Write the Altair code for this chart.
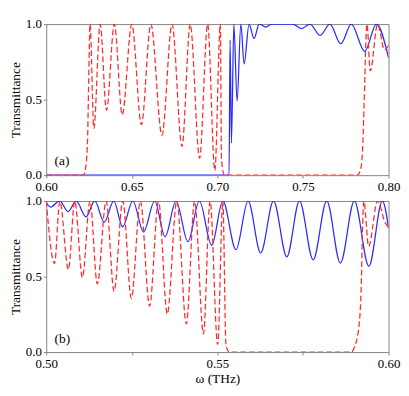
import altair as alt
import pandas as pd

# ---- panel (a) ----
a_red_x = [0.600, 0.6217, 0.6229, 0.6241, 0.6248, 0.6256, 0.6278, 0.6315, 0.6352, 0.6398,
           0.6444, 0.6500, 0.6556, 0.6611, 0.6676, 0.6735, 0.6793, 0.6841, 0.6896, 0.6943,
           0.6985, 0.7017, 0.7024, 0.7041, 0.7817, 0.7837, 0.7850, 0.7856, 0.7861, 0.7868,
           0.7874, 0.7893, 0.7936, 0.7976, 0.800]
a_red_y = [0, 0, 0.04, 0.22, 0.63, 1.0, 0.31, 1.0, 0.43, 1.0,
           0.40, 1.0, 0.335, 1.0, 0.264, 1.0, 0.19, 1.0, 0.112, 1.0,
           0.03, 1.0, 0.1, 0, 0, 0.04, 0.22, 0.43, 0.63, 0.91,
           1.0, 0.69, 1.0, 0.83, 0.86]

a_blue_x = [0.600, 0.7068, 0.7074, 0.7082, 0.7096, 0.7115, 0.7137, 0.7156, 0.7185, 0.7214,
            0.7244, 0.7282, 0.7318, 0.7439, 0.7491, 0.7541, 0.7600, 0.7657, 0.7721, 0.7782,
            0.7861, 0.7929, 0.800]
a_blue_y = [0, 0, 0.894, 0.213, 1.0, 0.49, 1.0, 0.736, 1.0, 0.905,
            1.0, 0.98, 1.0, 1.0, 0.97, 1.0, 0.925, 1.0, 0.87, 1.0,
            0.82, 1.0, 0.776]

# ---- panel (b) ----
b_red_x = [0.5, 0.50242, 0.50397, 0.50647, 0.50833, 0.51056, 0.51278, 0.51492, 0.5175, 0.51981,
           0.52236, 0.52486, 0.5275, 0.53019, 0.53278, 0.53536, 0.53814, 0.54092, 0.54333, 0.54592,
           0.54786, 0.55008, 0.55158, 0.5525, 0.55342, 0.58908, 0.59, 0.59139, 0.59203, 0.59242,
           0.59278, 0.59417, 0.59681, 0.59903, 0.6]
b_red_y = [1.0, 0.586, 1, 0.546, 1, 0.494, 1, 0.451, 1, 0.402,
           1, 0.355, 1, 0.304, 1, 0.253, 1, 0.186, 1, 0.12,
           1, 0.05, 1, 0.05, 0, 0, 0.03, 0.18, 0.45, 0.84,
           1.0, 0.70, 1.0, 0.855, 0.83]

b_blue_x = [0.5, 0.50125, 0.50389, 0.50639, 0.50875, 0.51161, 0.51417, 0.51694, 0.51972, 0.52231,
            0.52528, 0.52842, 0.53167, 0.53472, 0.53792, 0.54139, 0.54472, 0.54833, 0.55158, 0.55542,
            0.55897, 0.56264, 0.56639, 0.57028, 0.57397, 0.57797, 0.58194, 0.58592, 0.59, 0.59425,
            0.59819, 0.6]
b_blue_y = [0.99, 0.96, 1, 0.93, 1, 0.895, 1, 0.86, 1, 0.829,
            1, 0.796, 1, 0.763, 1, 0.731, 1, 0.706, 1, 0.678,
            1, 0.656, 1, 0.63, 1, 0.61, 1, 0.589, 1, 0.568,
            1, 0.82]

a_xticks = [0.60, 0.65, 0.70, 0.75, 0.80]
b_xticks = [0.50, 0.525, 0.55, 0.575, 0.60]
y_ticks = [0.0, 0.25, 0.5, 0.75, 1.0]

panel_labels = ["(a)", "(b)"]
label_x = [0.6092, 0.5047]
label_y = [0.09, 0.083]

FONT = "Liberation Serif"
GRAY = "#808080"
BLUE = "#2b2bff"
RED = "#ff2a2a"
W, H = 358, 158


def panel(rx, ry, bx, by, xticks, dom, lab, lx, ly, xtitle):
    blue = pd.DataFrame({"x": bx, "y": by})
    red = pd.DataFrame({"x": rx, "y": ry})
    labdf = pd.DataFrame({"x": [lx], "y": [ly], "t": [lab]})
    xaxis = alt.Axis(
        values=xticks,
        labelExpr="round(datum.value*1000) % 50 == 0 ? format(datum.value, '.2f') : ''",
        title=xtitle, labelFlush=False, grid=False, domain=False,
        tickColor=GRAY, tickSize=3, labelFont=FONT, labelFontSize=13.5,
        labelColor="black", labelPadding=2, titleFont=FONT, titleFontSize=14,
        titleFontWeight="normal", titleColor="black", titlePadding=2,
    )
    yaxis = alt.Axis(
        values=y_ticks,
        labelExpr="round(datum.value*100) % 50 == 0 ? format(datum.value, '.1f') : ''",
        title="Transmittance", grid=False, domain=False,
        tickColor=GRAY, tickSize=3, labelFont=FONT, labelFontSize=13.5,
        labelColor="black", labelPadding=2, titleFont=FONT, titleFontSize=14,
        titleFontWeight="normal", titleColor="black", titlePadding=3,
    )
    xs = alt.Scale(domain=dom, nice=False, zero=False)
    ys = alt.Scale(domain=[0, 1], nice=False)
    b = alt.Chart(blue).mark_line(color=BLUE, strokeWidth=1.3, interpolate="monotone", clip=True).encode(
        x=alt.X("x:Q", scale=xs, axis=xaxis),
        y=alt.Y("y:Q", scale=ys, axis=yaxis),
    )
    r = alt.Chart(red).mark_line(color=RED, strokeWidth=1.3, strokeDash=[6, 3],
                                 interpolate="monotone", clip=True).encode(
        x=alt.X("x:Q", scale=xs),
        y=alt.Y("y:Q", scale=ys),
    )
    t = alt.Chart(labdf).mark_text(font=FONT, fontSize=14, color="black").encode(
        x=alt.X("x:Q", scale=xs), y=alt.Y("y:Q", scale=ys), text="t:N"
    )
    return alt.layer(b, r, t).properties(width=W, height=H)


pa = panel(a_red_x, a_red_y, a_blue_x, a_blue_y, a_xticks, [0.6, 0.8],
           panel_labels[0], label_x[0], label_y[0], None)
pb = panel(b_red_x, b_red_y, b_blue_x, b_blue_y, b_xticks, [0.5, 0.6],
           panel_labels[1], label_x[1], label_y[1], "ω (THz)")

chart = alt.vconcat(
    pa, pb, spacing=0, padding=0,
).configure(background="white").configure_view(stroke=GRAY, strokeWidth=1)

chart.save("out.html", embed_options={"renderer": "svg", "actions": False})
